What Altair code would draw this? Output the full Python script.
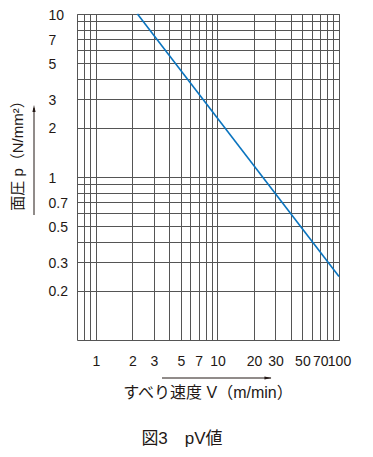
import altair as alt
import pandas as pd

# Data
V_line = [2.2, 100]
p_line = [10, 0.245]

x_grid = [0.8, 0.9, 1, 2, 3, 4, 5, 6, 7, 8, 9, 10, 20, 30, 40, 50, 60, 70, 80, 90, 100]
x_labels = [1, 2, 3, 5, 7, 10, 20, 30, 50, 70, 100]
y_grid = [0.2, 0.3, 0.4, 0.5, 0.6, 0.7, 0.8, 0.9, 1, 2, 3, 4, 5, 6, 7, 8, 9, 10]
y_labels = [0.2, 0.3, 0.5, 0.7, 1, 2, 3, 5, 7, 10]

x_title = "すべり速度 V（m/min）"
y_title = "面圧 p（N/mm²）"
caption = "図3　pV値"

FONT = "'Liberation Sans', 'Noto Sans CJK JP', sans-serif"
INK = "#231815"
GRID = "#555555"
BLUE = "#0a74bf"

W, H = 262, 326

df = pd.DataFrame({"V": V_line, "p": p_line})

def label_expr(vals):
    arr = ",".join(str(v) for v in vals)
    return f"indexof([{arr}], datum.value) >= 0 ? datum.label : ''"

line = alt.Chart(df).mark_line(color=BLUE, strokeWidth=1.6).encode(
    x=alt.X("V:Q",
            scale=alt.Scale(type="log", domain=[0.7, 100], nice=False),
            axis=alt.Axis(values=x_grid, labelExpr=label_expr(x_labels), format="~g",
                          grid=True, ticks=False, domain=False, labelPadding=14,
                          labelFontSize=14, labelFont=FONT, labelColor=INK,
                          gridColor=GRID, gridOpacity=1, gridWidth=1, title=None,
                          labelFlush=False, labelOverlap=False)),
    y=alt.Y("p:Q",
            scale=alt.Scale(type="log", domain=[0.1, 10], nice=False),
            axis=alt.Axis(values=y_grid, labelExpr=label_expr(y_labels), format="~g",
                          grid=True, ticks=False, domain=False, labelPadding=29,
                          labelAlign="left", labelFontSize=14, labelFont=FONT,
                          labelColor=INK, gridColor=GRID, gridOpacity=1, gridWidth=1,
                          title=None, labelFlush=False, labelOverlap=False, labelOffset=1)),
)

one = alt.Data(values=[{"a": 1}])

x_title_mark = alt.Chart(one).mark_text(
    text=x_title, font=FONT, fontSize=16, color=INK, align="center", baseline="middle"
).encode(x=alt.value(131), y=alt.value(379))

y_title_mark = alt.Chart(one).mark_text(
    text=y_title, font=FONT, fontSize=15, color=INK, align="center", baseline="middle", angle=270
).encode(x=alt.value(-59), y=alt.value(138))

caption_mark = alt.Chart(one).mark_text(
    text=caption, font=FONT, fontSize=17, color=INK, align="center", baseline="middle"
).encode(x=alt.value(105), y=alt.value(425))

# arrows
y_arrow = alt.Chart(one).mark_rule(color=INK, strokeWidth=1).encode(
    x=alt.value(-43), y=alt.value(94), y2=alt.value(201))
y_head = alt.Chart(one).mark_point(
    shape="M0,-1L0.45,1L-0.45,1Z", filled=True, color=INK, size=50, opacity=1
).encode(x=alt.value(-43), y=alt.value(94.5))

x_arrow = alt.Chart(one).mark_rule(color=INK, strokeWidth=1).encode(
    x=alt.value(85), x2=alt.value(194), y=alt.value(364))
x_head = alt.Chart(one).mark_point(
    shape="M1,0L-1,-0.45L-1,0.45Z", filled=True, color=INK, size=50, opacity=1
).encode(x=alt.value(191), y=alt.value(364))

chart = alt.layer(
    line, x_title_mark, y_title_mark, caption_mark, y_arrow, y_head, x_arrow, x_head
).properties(
    width=W, height=H,
    autosize=alt.AutoSizeParams(type="none"),
    padding={"left": 69, "top": 6, "right": 26, "bottom": 109},
    background="white",
).configure_view(stroke=GRID, strokeWidth=1)

chart.save("out.html", embed_options={"renderer": "svg", "actions": False})
